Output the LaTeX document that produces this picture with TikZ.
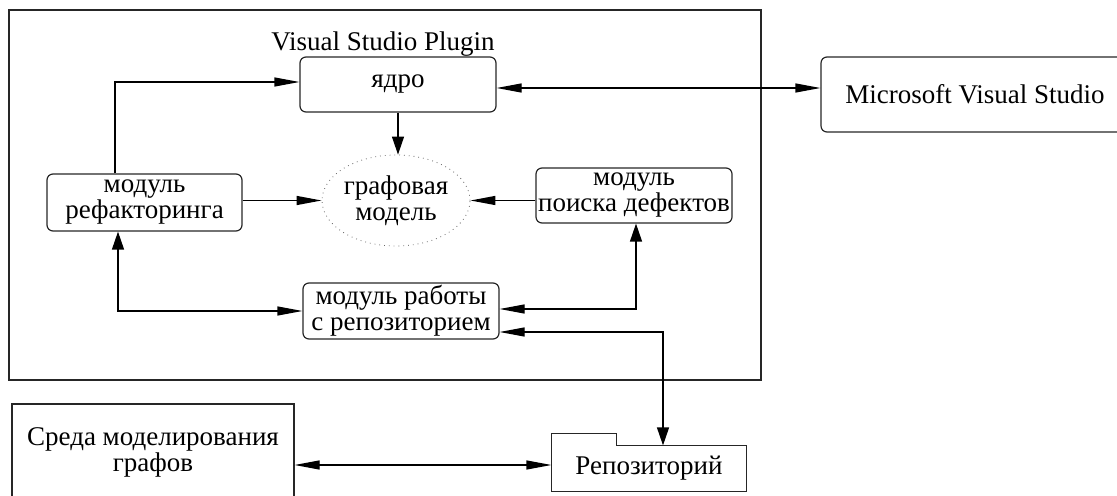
\documentclass[tikz,border=0pt]{standalone}
\usepackage{fontspec}
\setmainfont{Liberation Serif}
\usetikzlibrary{arrows.meta,shapes.geometric}
\tikzset{
  htip/.tip={Triangle[length=12.5pt,width=4.5pt]},
  vtip/.tip={Triangle[length=9pt,width=6pt]},
  blk/.style={draw=black!85,rounded corners=3pt,align=center,inner sep=0pt},
  sq/.style={draw=black!85,align=center,inner sep=0pt},
}
\begin{document}
\begin{tikzpicture}[x=.5pt,y=-.5pt,line width=.6pt,font=\fontsize{13.5}{13}\selectfont]
\useasboundingbox (0,0) rectangle (1117,496);
% plugin frame
\draw[black!85] (9,10) rectangle (761,380);
\node (T) at (383,44) {Visual Studio Plugin};
\node[blk,minimum width=98pt,minimum height=27.5pt] (C) at (398,84.5) {ядро};
\node[blk,minimum width=154pt,minimum height=37.5pt] (M) at (975,94.5) {Microsoft Visual Studio};
\node[draw=black!60,dotted,line width=.4pt,ellipse,inner sep=0pt,minimum width=74pt,minimum height=45.5pt,align=center] (G) at (396,200.5) {графовая\\модель};
\node[blk,minimum width=97.5pt,minimum height=28.5pt] (R) at (144.5,202.5) {модуль\\рефакторинга};
\node[blk,minimum width=98pt,minimum height=27.5pt] (D) at (634,195.5) {модуль\\поиска дефектов};
\node[blk,minimum width=98pt,minimum height=28pt] (W) at (401,311) {модуль работы\\с репозиторием};
% outside
\node[sq,minimum width=141pt,minimum height=48pt] (E) at (153,452) {Среда моделирования\\графов};
\node[inner sep=0pt,minimum width=97pt,minimum height=22.5pt] (P) at (649,468.5) {Репозиторий};
% folder outline
\draw[black!85] (P.north east) -- (P.south east) -- (P.south west)
  -- ([yshift=6pt]P.north west) -- ++(65,0) |- (P.north east);
% links
\draw[-htip] ([xshift=-14.75pt]R.north) |- ([yshift=1.25pt]C.west);
\draw[htip-htip] ([yshift=-1.75pt]C.east) -- ([yshift=-1.75pt]C.east -| M.west);
\draw[-vtip] (C.south) -- (C.south |- G.north);
\draw[-htip] (R.east |- G.west) -- (G.west);
\draw[-htip] (D.west |- G.east) -- (G.east);
\draw[vtip-htip] ([xshift=-13.25pt]R.south) |- (W.west);
\draw[htip-vtip] ([yshift=1pt]W.east) -| ([xshift=1pt]D.south);
\draw[htip-vtip] ([yshift=-10.5pt]W.east) -| ([xshift=7pt]P.north);
\draw[htip-htip] ([yshift=-6.5pt]E.east) -- ([yshift=1.75pt]P.west);
\end{tikzpicture}
\end{document}
